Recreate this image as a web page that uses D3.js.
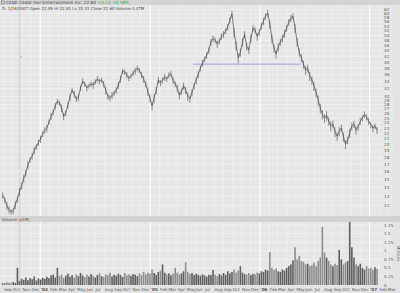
<!DOCTYPE html>
<html><head><meta charset="utf-8">
<script src="https://cdn.jsdelivr.net/npm/d3@7"></script>
<style>html,body{margin:0;padding:0;background:#e4e4e4;}svg{display:block;font-family:"DejaVu Sans",Arial,sans-serif;}</style>
</head><body>
<script>
// ---- data ----
const startFriday = new Date(2003, 7, 29);
const closes = [13.1,12.6,12.0,11.6,11.4,11.5,12.1,12.7,13.5,14.2,
15.1,15.8,16.9,17.6,18.2,19.1,19.7,20.4,21.0,21.9,
22.6,23.0,24.2,25.4,26.3,27.7,28.8,28.4,27.2,25.4,
26.1,27.9,29.8,31.6,30.6,29.4,29.8,32.2,34.1,33.3,
32.2,32.8,33.3,33.0,33.9,34.7,34.1,34.4,33.3,31.6,
30.0,29.6,30.3,30.8,31.6,33.0,34.7,37.1,36.8,35.9,
35.0,35.6,36.5,37.1,38.0,37.4,35.9,34.7,33.3,31.3,
29.6,27.7,29.6,31.6,34.4,33.6,34.4,35.3,34.7,35.9,
36.2,34.4,33.3,32.2,30.3,31.3,32.8,31.6,30.0,29.4,
31.0,32.8,34.4,36.2,38.0,39.7,41.0,42.4,44.2,47.3,
48.8,48.1,46.6,47.7,49.6,50.5,51.8,53.7,56.9,59.9,
51.4,46.1,41.4,43.5,47.3,50.5,45.7,44.2,48.8,53.2,
52.3,49.6,51.4,54.2,56.4,58.8,60.4,55.1,48.8,45.0,
42.8,45.4,47.3,48.8,50.9,53.2,55.9,57.8,58.8,53.2,
47.3,43.5,41.4,39.3,37.4,38.0,35.6,34.4,32.8,31.0,
29.1,27.2,25.8,25.0,25.6,24.4,23.4,23.8,22.3,21.5,
22.4,23.0,21.4,20.1,20.8,22.1,23.4,23.8,22.6,23.2,
24.4,25.0,25.8,25.2,24.4,23.6,23.0,23.4,22.6];
// weekly high-low range in dollars
const ranges = [0.7,0.6,0.8,0.7,0.5,0.6,0.8,0.7,0.9,0.8,
1.0,0.9,1.1,0.8,1.0,1.2,0.9,1.1,1.3,1.0,
1.2,1.4,1.1,1.5,1.3,1.6,1.4,1.2,1.7,1.5,
1.3,1.6,1.8,1.5,1.7,1.4,1.9,1.6,1.8,1.5,
1.7,1.4,1.6,1.9,1.5,1.8,1.6,1.4,1.7,2.0,
1.6,1.5,1.8,1.4,1.7,1.9,2.0,1.8,1.6,1.9,
1.7,1.5,1.8,2.1,1.9,1.6,1.8,2.0,1.7,2.2,
2.0,1.8,2.3,1.9,2.1,1.7,1.8,2.0,1.6,1.9,
1.8,2.0,1.7,2.1,1.9,1.6,2.0,1.8,2.2,1.7,
1.9,1.8,2.0,2.1,1.9,2.2,2.0,2.3,2.5,2.8,
2.6,2.4,2.9,2.5,2.7,3.0,2.6,2.9,3.2,3.5,
4.0,3.6,3.2,3.0,3.3,2.8,3.1,2.7,3.4,3.0,
2.8,3.2,2.9,3.1,3.4,3.0,3.6,3.8,3.5,3.1,
2.9,3.2,2.8,3.0,3.3,2.9,3.2,3.5,3.3,3.9,
3.4,3.0,2.8,2.6,2.9,2.5,2.7,2.4,2.6,2.3,
2.5,2.2,2.0,1.8,2.1,1.7,1.9,1.6,1.8,1.5,
1.7,1.4,1.6,1.5,1.3,1.7,1.5,1.4,1.6,1.3,
1.5,1.2,1.4,1.3,1.5,1.2,1.4,1.1,1.3];
const volumes = [0.05,0.06,0.08,0.07,0.05,0.09,0.06,0.50,
0.12,0.18,0.15,0.22,0.14,0.20,0.17,0.25,0.13,0.19,0.16,0.21,0.18,
0.24,0.20,0.28,0.30,0.22,0.50,0.26,0.30,0.21,0.27,0.33,0.24,0.29,0.22,0.31,0.26,0.35,0.28,0.23,0.30,
0.25,0.32,0.27,0.22,0.29,0.34,0.26,0.24,0.31,0.28,0.36,0.25,0.30,0.27,0.33,0.29,0.24,0.35,0.28,0.31,
0.27,0.32,0.30,0.26,0.34,0.29,0.38,0.31,0.36,0.33,0.45,0.35,0.30,0.38,0.42,0.60,0.36,0.31,0.34,0.28,
0.33,0.50,0.36,0.30,0.34,0.40,0.66,0.38,0.32,0.35,0.29,0.33,0.30,0.27,0.31,0.28,0.25,0.30,0.29,0.44,
0.30,0.26,0.32,0.28,0.35,0.30,0.40,0.34,0.38,0.45,0.36,0.42,0.55,0.36,0.32,0.30,0.35,0.29,0.33,0.31,
0.36,0.34,0.40,0.38,0.45,0.42,0.96,0.50,0.44,0.48,0.40,0.38,0.45,0.42,0.50,0.55,0.60,0.72,1.10,0.75,
0.85,0.70,0.68,0.60,0.62,0.55,0.58,0.65,0.55,0.70,0.80,1.69,0.95,0.80,0.70,0.60,0.55,0.62,0.58,1.02,
0.75,0.60,0.66,0.70,1.84,1.10,0.80,0.60,0.55,0.62,0.50,0.45,0.55,0.48,0.50,0.44,0.52,0.47];
const priceTicks = [12,13,14,15,16,17,18,19,20,21,22,23,24,25,26,27,28,29,30,32,34,36,38,40,42,44,46,48,50,52,54,56,58,60,62];
const volumeTicks = [0,0.25,0.5,0.75,1,1.25,1.5,1.75];
const resistance = {price: 39.3, from: new Date(2005, 4, 24), to: new Date(2006, 4, 14)};
const markerDate = new Date(2003, 9, 25);
const titleText = "CEDE Cedar Fair Entertainment Inc.  22.60";
const changeText = "+0.13  +0.58%";
const infoText = "D: 1/26/2007  Open 22.49  Hi 22.81  Lo 22.31  Close 22.60  Volume 0.47M";

// ---- layout ----
const W = 400, H = 293;
const plotL = 0, plotR = 393;
const pTop = 5, pBot = 216, vTop = 222, vBot = 285;

const dates = d3.timeDay.range(startFriday, d3.timeDay.offset(startFriday, 7 * closes.length), 7);
const x = d3.scaleTime().domain([new Date(2003, 7, 20), new Date(2007, 2, 20)]).range([plotL, plotR]);
const y = d3.scaleLog().domain([11, 64]).range([pBot, pTop + 1]);
const yv = d3.scaleLinear().domain([0, 1.75]).range([vBot, vTop + 3]);

const svg = d3.select("body").append("svg").attr("width", W).attr("height", H);
svg.append("rect").attr("width", W).attr("height", H).attr("fill", "#e4e4e4");

// header
svg.append("rect").attr("x", 0).attr("y", 0).attr("width", W).attr("height", pTop).attr("fill", "#d4d4d4");
// panels
svg.append("rect").attr("x", plotL).attr("y", pTop).attr("width", plotR - plotL).attr("height", pBot - pTop).attr("fill", "#e6e6e6");
svg.append("rect").attr("x", 0).attr("y", pBot).attr("width", W).attr("height", vTop - pBot).attr("fill", "#d2d2d2");
svg.append("rect").attr("x", plotL).attr("y", vTop).attr("width", plotR - plotL).attr("height", vBot - vTop).attr("fill", "#e6e6e6");

// grid horizontal
const g = svg.append("g");
g.selectAll(".hp").data(priceTicks).join("line")
  .attr("x1", plotL).attr("x2", plotR).attr("y1", d => y(d)).attr("y2", d => y(d))
  .attr("stroke", "#f6f6f6").attr("stroke-width", 0.6);
g.selectAll(".hv").data(volumeTicks.slice(1)).join("line")
  .attr("x1", plotL).attr("x2", plotR).attr("y1", d => yv(d)).attr("y2", d => yv(d))
  .attr("stroke", "#f6f6f6").attr("stroke-width", 0.6);

// grid vertical
const months = d3.timeMonth.range(new Date(2003, 8, 1), new Date(2007, 3, 1));
[[pTop, pBot], [vTop, vBot]].forEach(([a, b]) => {
  g.selectAll(null).data(months).join("line")
    .attr("x1", d => x(d)).attr("x2", d => x(d)).attr("y1", a).attr("y2", b)
    .attr("stroke", d => d.getMonth() === 0 ? "#ffffff" : "#f4f4f4")
    .attr("stroke-width", d => d.getMonth() === 0 ? 1.2 : 0.6);
});
// marker line
svg.append("line").attr("x1", x(markerDate)).attr("x2", x(markerDate)).attr("y1", pTop).attr("y2", vBot)
  .attr("stroke", "#bfc4c4").attr("stroke-width", 0.7);
svg.append("text").attr("x", x(markerDate) + 0.5).attr("y", 58).attr("font-size", 5).attr("fill", "#888").text("‹");

// resistance line
svg.append("line").attr("x1", x(resistance.from)).attr("x2", x(resistance.to))
  .attr("y1", y(resistance.price)).attr("y2", y(resistance.price))
  .attr("stroke", "#8c8cd8").attr("stroke-width", 0.8);

// volume bars
svg.append("g").selectAll("rect").data(volumes).join("rect")
  .attr("x", (d, i) => x(dates[i]) - 0.8).attr("width", 1.6)
  .attr("y", d => Math.max(vTop, yv(d))).attr("height", d => vBot - Math.max(vTop, yv(d)))
  .attr("fill", (d, i) => (i > 0 && closes[i] < closes[i - 1]) ? "#8c8c8c" : "#5e5e5e");

// price: weekly high-low bars + close line
svg.append("g").selectAll("line").data(closes).join("line")
  .attr("x1", (d, i) => x(dates[i])).attr("x2", (d, i) => x(dates[i]))
  .attr("y1", (d, i) => y(d + ranges[i] * 0.45)).attr("y2", (d, i) => y(d - ranges[i] * 0.55))
  .attr("stroke", "#4a4a4a").attr("stroke-width", 0.6);
const line = d3.line().x((d, i) => x(dates[i])).y(d => y(d)).curve(d3.curveLinear);
svg.append("path").datum(closes).attr("d", line).attr("fill", "none")
  .attr("stroke", "#4a4a4a").attr("stroke-width", 0.7).attr("stroke-linejoin", "round");

// right axes labels
svg.append("g").selectAll("text").data(priceTicks).join("text")
  .attr("x", 384).attr("y", d => y(d) + 1.5).attr("font-size", 4.2).attr("fill", "#555").text(d => d);
svg.append("g").selectAll("text").data(volumeTicks).join("text")
  .attr("x", 384).attr("y", d => yv(d) + 1.5).attr("font-size", 4.2).attr("fill", "#555").text(d => d);
svg.append("text").attr("transform", `translate(397,${(vTop + vBot) / 2}) rotate(90)`).attr("text-anchor", "middle")
  .attr("font-size", 4.2).attr("fill", "#555").text("Millions");

// x-axis labels
const fmtM = d3.timeFormat("%b");
svg.append("g").selectAll("text").data(months).join("text")
  .attr("x", d => x(d) + 0.5).attr("y", 291).attr("font-size", 4.2)
  .attr("font-weight", d => d.getMonth() === 0 ? "bold" : "normal")
  .attr("fill", "#555").text(d => d.getMonth() === 0 ? "'" + d3.timeFormat("%y")(d) : fmtM(d));

// header text
svg.append("rect").attr("x", 1.5).attr("y", 1).attr("width", 3).attr("height", 3).attr("fill", "none").attr("stroke", "#666").attr("stroke-width", 0.5);
const t = svg.append("text").attr("x", 6).attr("y", 4.3).attr("font-size", 4.3).attr("fill", "#444");
t.append("tspan").text(titleText + "  ");
t.append("tspan").attr("fill", "#2fa82f").text(changeText);
svg.append("text").attr("x", 2).attr("y", 10).attr("font-size", 4).attr("fill", "#444").text(infoText);
svg.append("text").attr("x", 2).attr("y", 220.5).attr("font-size", 4).attr("fill", "#555").text("Volume (x1M)");
</script>
</body></html>
